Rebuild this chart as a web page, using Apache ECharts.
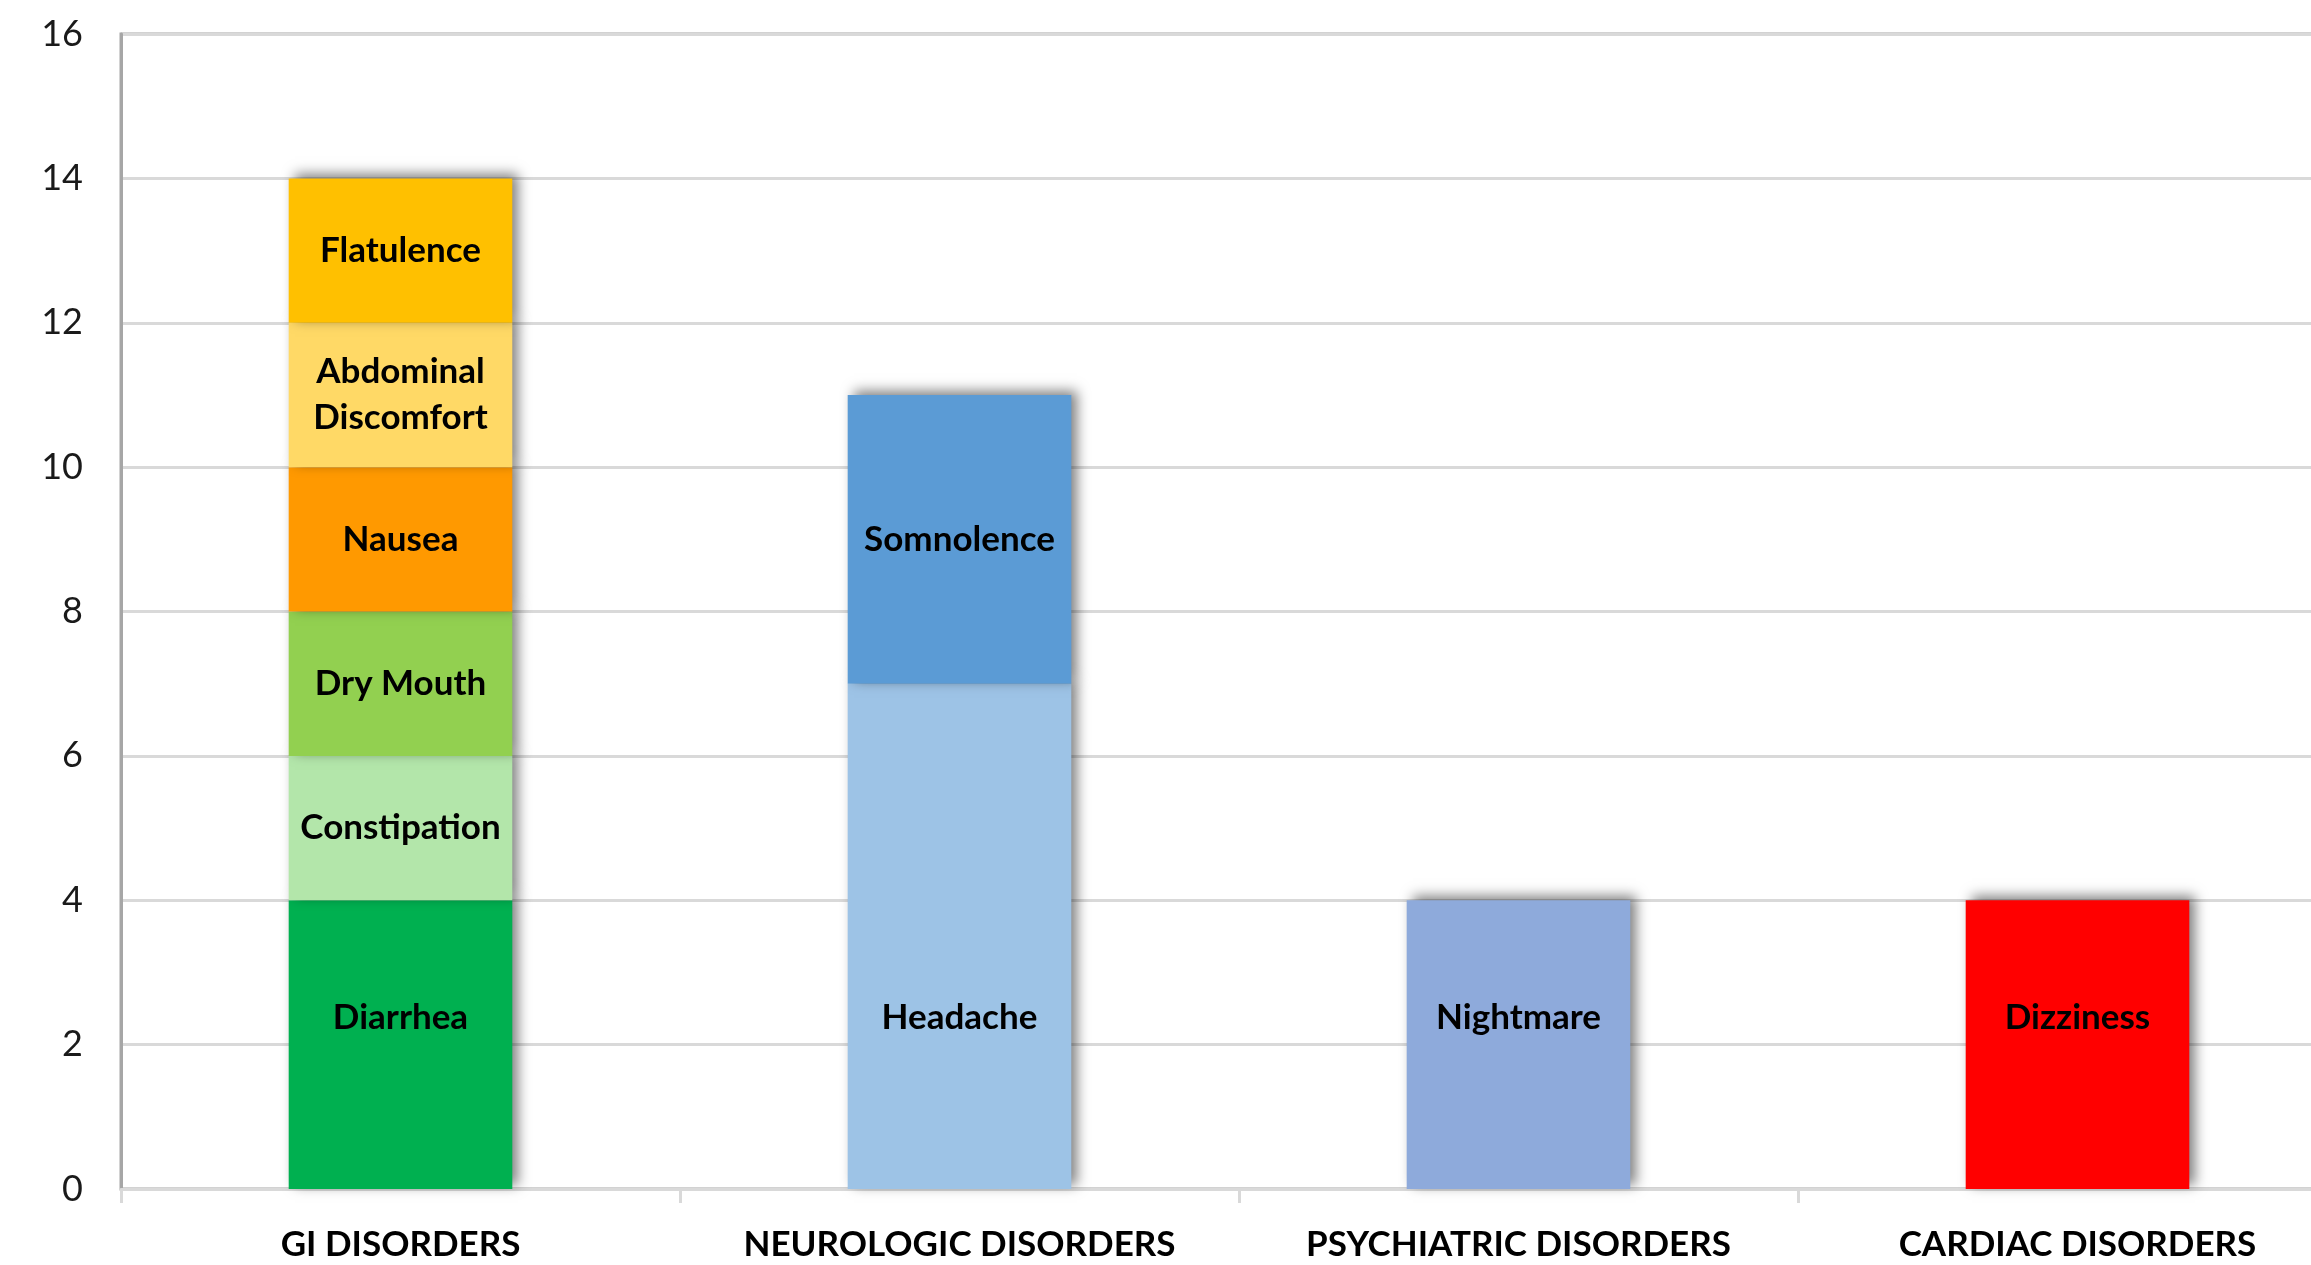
<!DOCTYPE html>
<html lang="en">
<head>
    <meta charset="utf-8"/>
    <title>Adverse events by system</title>
    <style>
        html, body { margin: 0; padding: 0; background: #fff; overflow: hidden; }
        #chartContainer { width: 2311px; height: 1265px; }
    </style>
</head>
<body>

<div id="chartContainer"></div>

<script src="https://cdn.jsdelivr.net/npm/echarts@6/dist/echarts.min.js"></script>
<script>

    var categories = ['GI DISORDERS', 'NEUROLOGIC DISORDERS', 'PSYCHIATRIC DISORDERS', 'CARDIAC DISORDERS'];

    // bottom segments first, then the ones stacked on top
    var seriesNames = ['Diarrhea', 'Headache', 'Nightmare', 'Dizziness',
        'Constipation', 'Somnolence', 'Dry Mouth', 'Nausea', 'Abdominal Discomfort', 'Flatulence'];
    var labelTexts = ['Diarrhea', 'Headache', 'Nightmare', 'Dizziness',
        'Constipation', 'Somnolence', 'Dry Mouth', 'Nausea', 'Abdominal\nDiscomfort', 'Flatulence'];
    var diarrhea     = [4, null, null, null];
    var headache     = [null, 7, null, null];
    var nightmare    = [null, null, 4, null];
    var dizziness    = [null, null, null, 4];
    var constipation = [2, null, null, null];
    var somnolence   = [null, 4, null, null];
    var dryMouth     = [2, null, null, null];
    var nausea       = [2, null, null, null];
    var abdominal    = [2, null, null, null];
    var flatulence   = [2, null, null, null];
    var seriesValues = [diarrhea, headache, nightmare, dizziness,
        constipation, somnolence, dryMouth, nausea, abdominal, flatulence];
    var seriesColors = ['#00b050', '#9dc3e6', '#8eaadb', '#ff0000',
        '#b3e6aa', '#5b9bd5', '#92d050', '#ff9900', '#ffd966', '#ffc000'];

    var yMin = 0, yMax = 16, yStep = 2;

    var fontName = 'Lato, "Open Sans", sans-serif';

    function buildSeries() {
        var list = [];
        for (var i = 0; i < seriesNames.length; i++) {
            var isBase = i < 4;
            list.push({
                name: seriesNames[i],
                type: 'bar',
                stack: 'total',
                barCategoryGap: '60%',
                data: seriesValues[i],
                itemStyle: {
                    color: seriesColors[i],
                    shadowColor: 'rgba(0,0,0,0.5)',
                    shadowBlur: 12,
                    shadowOffsetX: 6,
                    shadowOffsetY: -4
                },
                label: {
                    show: true,
                    position: isBase ? 'insideBottom' : 'inside',
                    distance: isBase ? 148 : 5,
                    formatter: labelTexts[i],
                    color: '#000',
                    fontFamily: fontName,
                    fontWeight: 'bold',
                    fontSize: 35,
                    lineHeight: 46
                }
            });
        }
        return list;
    }

    var myChart = echarts.init(document.getElementById('chartContainer'));
    var option = {
        animation: false,
        grid: {
            left: 121,
            width: 2236,   // plot runs past the right edge of the picture
            top: 34,
            bottom: 76,
            outerBoundsMode: 'none',
            containLabel: false,
            show: true,
            borderColor: '#a6a6a6',
            borderWidth: 3,
            backgroundColor: '#fff'
        },
        xAxis: {
            type: 'category',
            data: categories,
            axisLine: { lineStyle: { color: '#d9d9d9', width: 3 } },
            axisTick: { show: true, length: 14, lineStyle: { color: '#d9d9d9', width: 3 } },
            axisLabel: {
                interval: 0,
                margin: 38,
                color: '#000',
                fontFamily: fontName,
                fontWeight: 'bold',
                fontSize: 35
            }
        },
        yAxis: {
            type: 'value',
            min: yMin,
            max: yMax,
            interval: yStep,
            axisLine: { show: true, lineStyle: { color: '#a6a6a6', width: 3 } },
            axisTick: { show: false },
            splitLine: { lineStyle: { color: '#d9d9d9', width: 3 } },
            axisLabel: {
                margin: 38,
                color: '#1a1a1a',
                fontFamily: fontName,
                fontSize: 36
            }
        },
        series: buildSeries()
    };

    if (option && typeof option === "object") {
        myChart.setOption(option, true);
    }

</script>
</body>
</html>
